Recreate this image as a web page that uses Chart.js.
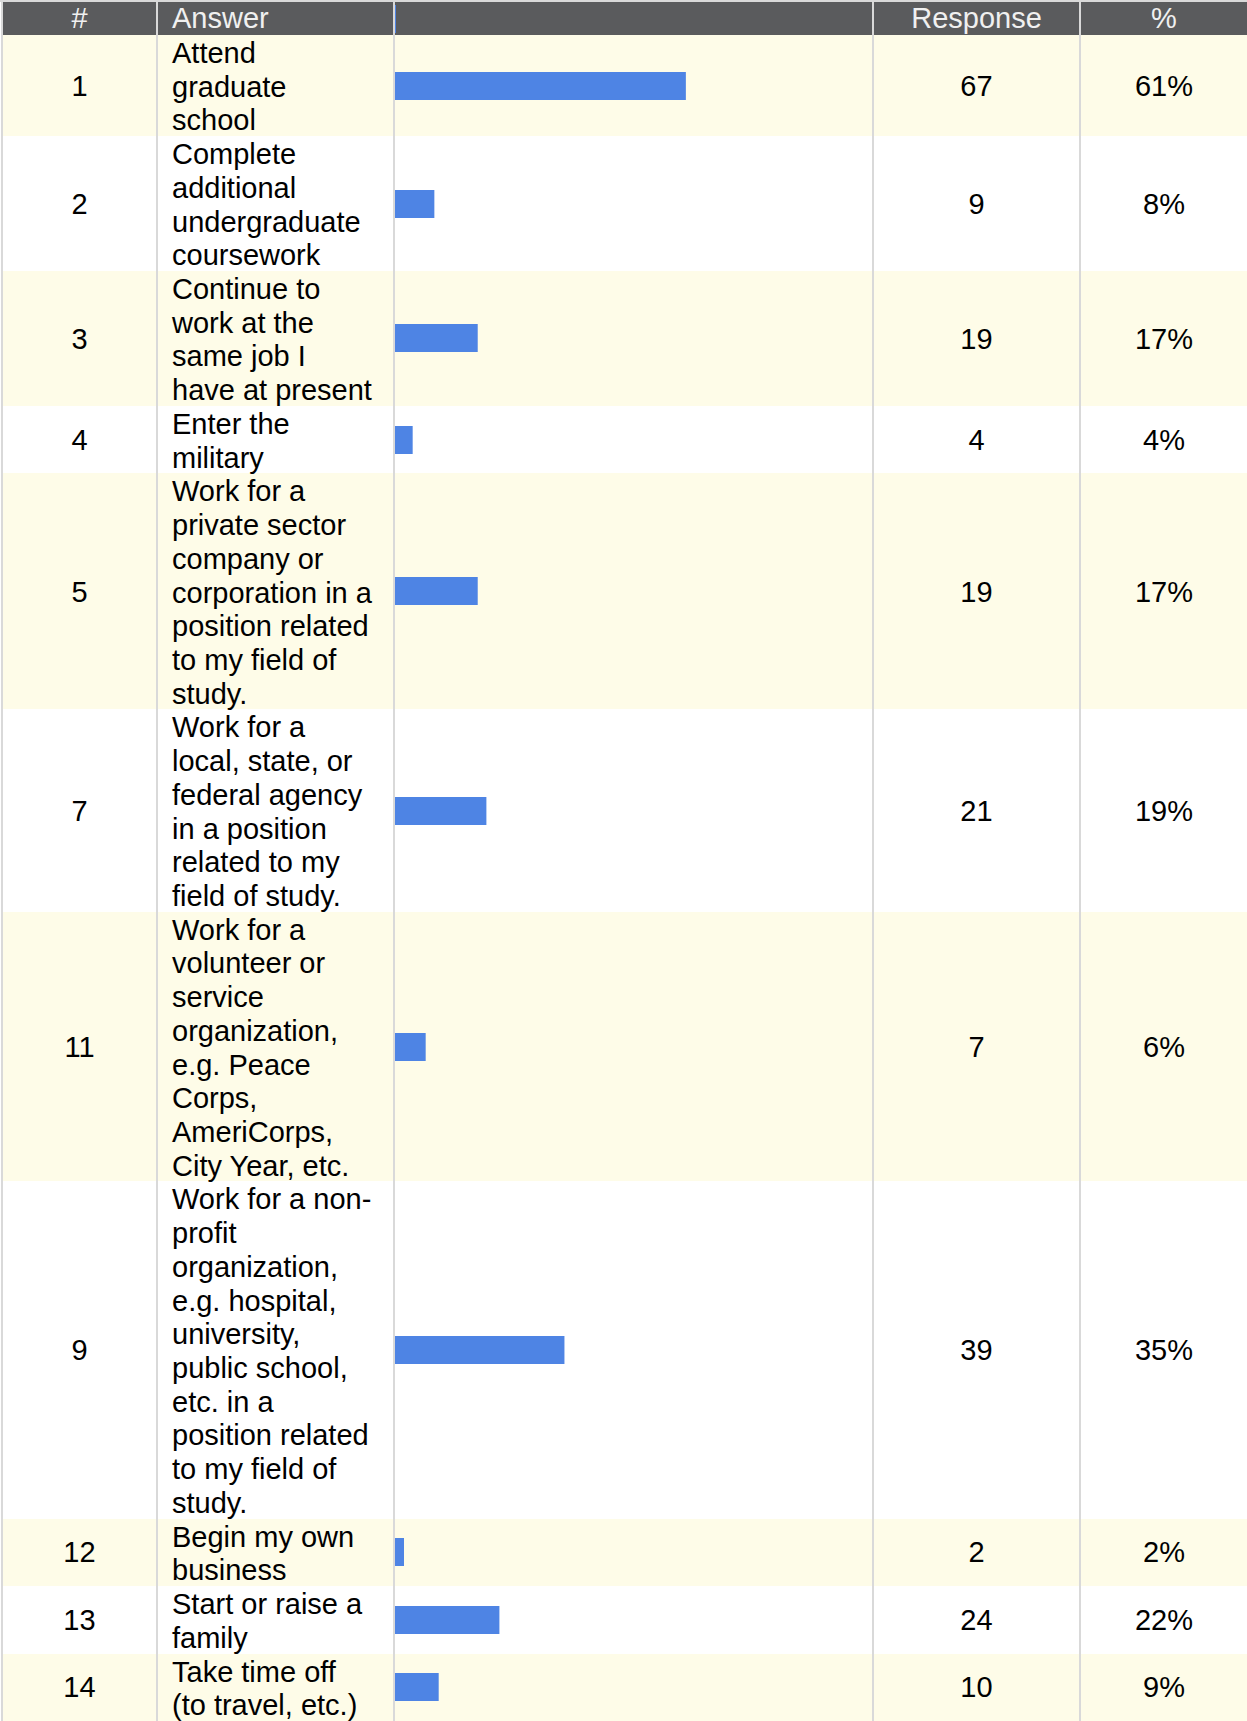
<!DOCTYPE html>
<html>
<head>
<meta charset="utf-8">
<script src="https://cdn.jsdelivr.net/npm/chart.js@4.4.0/dist/chart.umd.min.js"></script>
<style>
  html, body { margin: 0; padding: 0; background: #fff; }
  body { font-family: "Liberation Sans", Arial, sans-serif; font-size: 29px; color: #000; }
  #topline { height: 2px; background: #d9d9d9; }
  #grid { margin-left: 1px; width: 1246px; }
  .row { display: flex; }
  .row.odd { background: #fefce8; }
  .cell {
    box-sizing: border-box;
    border-left: 2px solid #d9d9d9;
    display: flex;
    align-items: center;
    justify-content: center;
    line-height: 33.72px;
  }
  .c0 { width: 155px; }
  .c1 { width: 237px; display: block; padding: 0 18px 0 14px; }
  .c2 { width: 479px; justify-content: flex-start; }
  .c3 { width: 207px; }
  .c4 { width: 168px; }
  .body .c1 span { position: relative; top: 2px; }
  .body .num { position: relative; top: 1px; }
  .head { background: #5a5b5d; color: #f0f0f0; height: 33px; }
  .head .cell { line-height: 33px; }
  .bar-box { position: relative; width: 477px; height: 28px; }
  .sliver { width: 1px; height: 28px; background: #4e84e4; }
</style>
</head>
<body>
<div id="topline"></div>
<div id="grid"></div>

<script>
const headers = ['#', 'Answer', '', 'Response', '%'];
const ids = ['1', '2', '3', '4', '5', '7', '11', '9', '12', '13', '14'];
const answers = [
  'Attend graduate school',
  'Complete additional undergraduate coursework',
  'Continue to work at the same job I have at present',
  'Enter the military',
  'Work for a private sector company or corporation in a position related to my field of study.',
  'Work for a local, state, or federal agency in a position related to my field of study.',
  'Work for a volunteer or service organization, e.g. Peace Corps, AmeriCorps, City Year, etc.',
  'Work for a non-profit organization, e.g. hospital, university, public school, etc. in a position related to my field of study.',
  'Begin my own business',
  'Start or raise a family',
  'Take time off (to travel, etc.)',
];
const responses = [67, 9, 19, 4, 19, 21, 7, 39, 2, 24, 10];
const percents = ['61%', '8%', '17%', '4%', '17%', '19%', '6%', '35%', '2%', '22%', '9%'];
const respondents = 110;

const BAR_COLOR = '#4e84e4';

function cell(cls, text, wrap) {
  const d = document.createElement('div');
  d.className = 'cell ' + cls;
  if (text !== undefined) {
    if (wrap) {
      const s = document.createElement('span');
      s.className = wrap;
      s.textContent = text;
      d.appendChild(s);
    } else {
      d.textContent = text;
    }
  }
  return d;
}

const grid = document.getElementById('grid');

// header row
const head = document.createElement('div');
head.className = 'row head';
headers.forEach((h, i) => {
  const c = cell('c' + i, h);
  if (i === 1) c.style.lineHeight = '33px';
  if (i === 2) {
    const s = document.createElement('div');
    s.className = 'sliver';
    c.appendChild(s);
  }
  head.appendChild(c);
});
grid.appendChild(head);

// body rows, one small bar chart per row
ids.forEach((id, i) => {
  const row = document.createElement('div');
  row.className = 'row body' + (i % 2 === 0 ? ' odd' : '');
  row.appendChild(cell('c0', id, 'num'));
  row.appendChild(cell('c1', answers[i], 'txt'));

  const barCell = cell('c2');
  const box = document.createElement('div');
  box.className = 'bar-box';
  const canvas = document.createElement('canvas');
  box.appendChild(canvas);
  barCell.appendChild(box);
  row.appendChild(barCell);

  row.appendChild(cell('c3', String(responses[i]), 'num'));
  row.appendChild(cell('c4', percents[i], 'num'));
  grid.appendChild(row);

  new Chart(canvas, {
    type: 'bar',
    data: {
      labels: [answers[i]],
      datasets: [{
        data: [responses[i]],
        backgroundColor: BAR_COLOR,
        borderWidth: 0,
        barPercentage: 1,
        categoryPercentage: 1,
      }],
    },
    options: {
      indexAxis: 'y',
      responsive: true,
      maintainAspectRatio: false,
      animation: false,
      layout: { padding: 0 },
      plugins: { legend: { display: false }, tooltip: { enabled: false } },
      scales: {
        x: { min: 0, max: respondents, display: false },
        y: { display: false },
      },
    },
  });
});
</script>
</body>
</html>
